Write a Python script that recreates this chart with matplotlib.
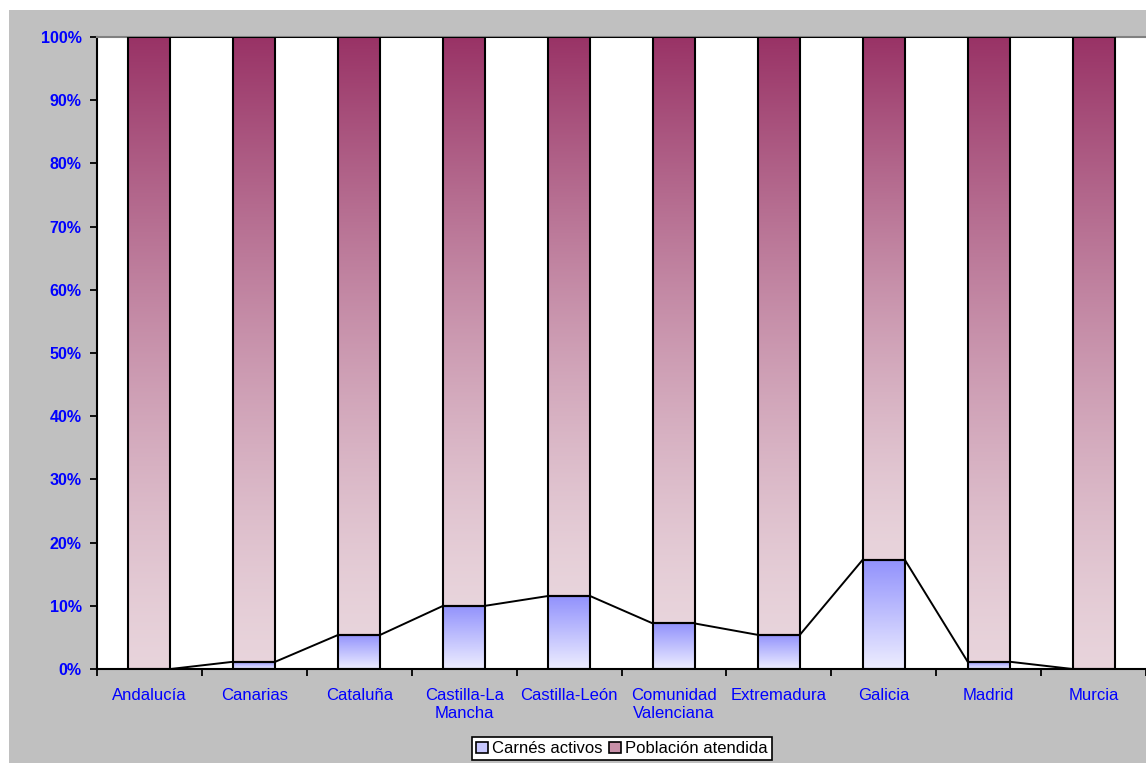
import numpy as np
import matplotlib.pyplot as plt
from matplotlib.patches import Rectangle

plt.rcParams['font.family'] = ['Liberation Sans', 'DejaVu Sans']

# data (percent of each region's total)
regiones = ['Andalucía', 'Canarias', 'Cataluña', 'Castilla-La\nMancha', 'Castilla-León',
            'Comunidad\nValenciana', 'Extremadura', 'Galicia', 'Madrid', 'Murcia']
carnes_activos = [0.0, 1.15, 5.4, 10.0, 11.55, 7.2, 5.4, 17.3, 1.15, 0.0]
poblacion_atendida = [100.0, 98.85, 94.6, 90.0, 88.45, 92.8, 94.6, 82.7, 98.85, 100.0]
series_names = ['Carnés activos', 'Población atendida']
yticks = [0, 10, 20, 30, 40, 50, 60, 70, 80, 90, 100]

W, H = 1146, 763
bw = 0.4
blue_bot, blue_top = (0.93, 0.93, 1.0), (0.57, 0.57, 0.99)
pink_bot, pink_top = (0.91, 0.83, 0.86), (0.60, 0.20, 0.40)


def grad_bar(ax, x, bottom, height, c_bot, c_top, gamma=1.0):
    if height <= 0:
        return
    t = np.linspace(0, 1, 256)[:, None, None] ** gamma
    img = np.array(c_bot)[None, None, :] * (1 - t) + np.array(c_top)[None, None, :] * t
    ax.imshow(img, extent=[x - bw / 2, x + bw / 2, bottom, bottom + height],
              origin='lower', aspect='auto', interpolation='bilinear', zorder=2)
    ax.add_patch(Rectangle((x - bw / 2, bottom), bw, height, fill=False,
                           edgecolor='black', lw=1.5, zorder=3))


fig = plt.figure(figsize=(W / 100, H / 100), dpi=100)
fig.patches.append(Rectangle((9 / W, 0), 1, (H - 10) / H, transform=fig.transFigure,
                             facecolor='#C0C0C0', edgecolor='none', zorder=-1))
ax = fig.add_axes([97 / W, 1 - 669 / H, 1 - 97 / W, (669 - 37) / H])
ax.set_zorder(1)
ax.set_facecolor('white')

x = np.arange(len(regiones))
tops1 = []
tops2 = []
for i in x:
    c = carnes_activos[i]
    p = poblacion_atendida[i]
    grad_bar(ax, i, 0, c, blue_bot, blue_top)
    grad_bar(ax, i, c, p, pink_bot, pink_top, gamma=1.35)
    tops1.append(c)
    tops2.append(c + p)

# series lines between bars
for tops in (tops1, tops2):
    for i in range(len(x) - 1):
        ax.plot([i + bw / 2, i + 1 - bw / 2], [tops[i], tops[i + 1]],
                color='black', lw=1.4, zorder=4, solid_capstyle='butt')

ax.set_xlim(-0.5, len(x) - 0.5)
ax.set_ylim(0, 100)

ax.set_xticks(np.arange(-0.5, len(x), 1))
ax.set_xticklabels([])
ax.set_xticks(x, minor=True)
ax.set_xticklabels(regiones, minor=True, color='#0000FF', fontsize=12, linespacing=1.25)
ax.tick_params(axis='x', which='major', length=5, width=1.3, color='black')
ax.tick_params(axis='x', which='minor', length=0, pad=13.5)

ax.set_yticks(yticks)
ax.set_yticklabels([f'{v}%' for v in yticks], color='#0000FF', fontsize=11.5,
                   fontweight='bold')
ax.tick_params(axis='y', length=5, width=1.3, pad=6)

ax.spines['right'].set_visible(False)
ax.spines['top'].set_color('#808080')
ax.spines['top'].set_linewidth(1.5)
ax.spines['left'].set_linewidth(1.5)
ax.spines['bottom'].set_linewidth(1.5)

handles = [Rectangle((0, 0), 1, 1, facecolor='#C8C8FF', edgecolor='black', lw=1.2),
           Rectangle((0, 0), 1, 1, facecolor='#C890A8', edgecolor='black', lw=1.2)]
leg = fig.legend(handles, series_names, loc='upper center',
                 bbox_to_anchor=(622 / W, 1 - 737 / H), ncol=2, fontsize=12,
                 frameon=True, fancybox=False, edgecolor='black', framealpha=1,
                 handlelength=0.7, handleheight=0.7, handletextpad=0.25,
                 columnspacing=0.4, borderpad=0.25, borderaxespad=0)
leg.set_zorder(5)
leg.get_frame().set_linewidth(1.2)

fig.savefig('out.png', dpi=100)
